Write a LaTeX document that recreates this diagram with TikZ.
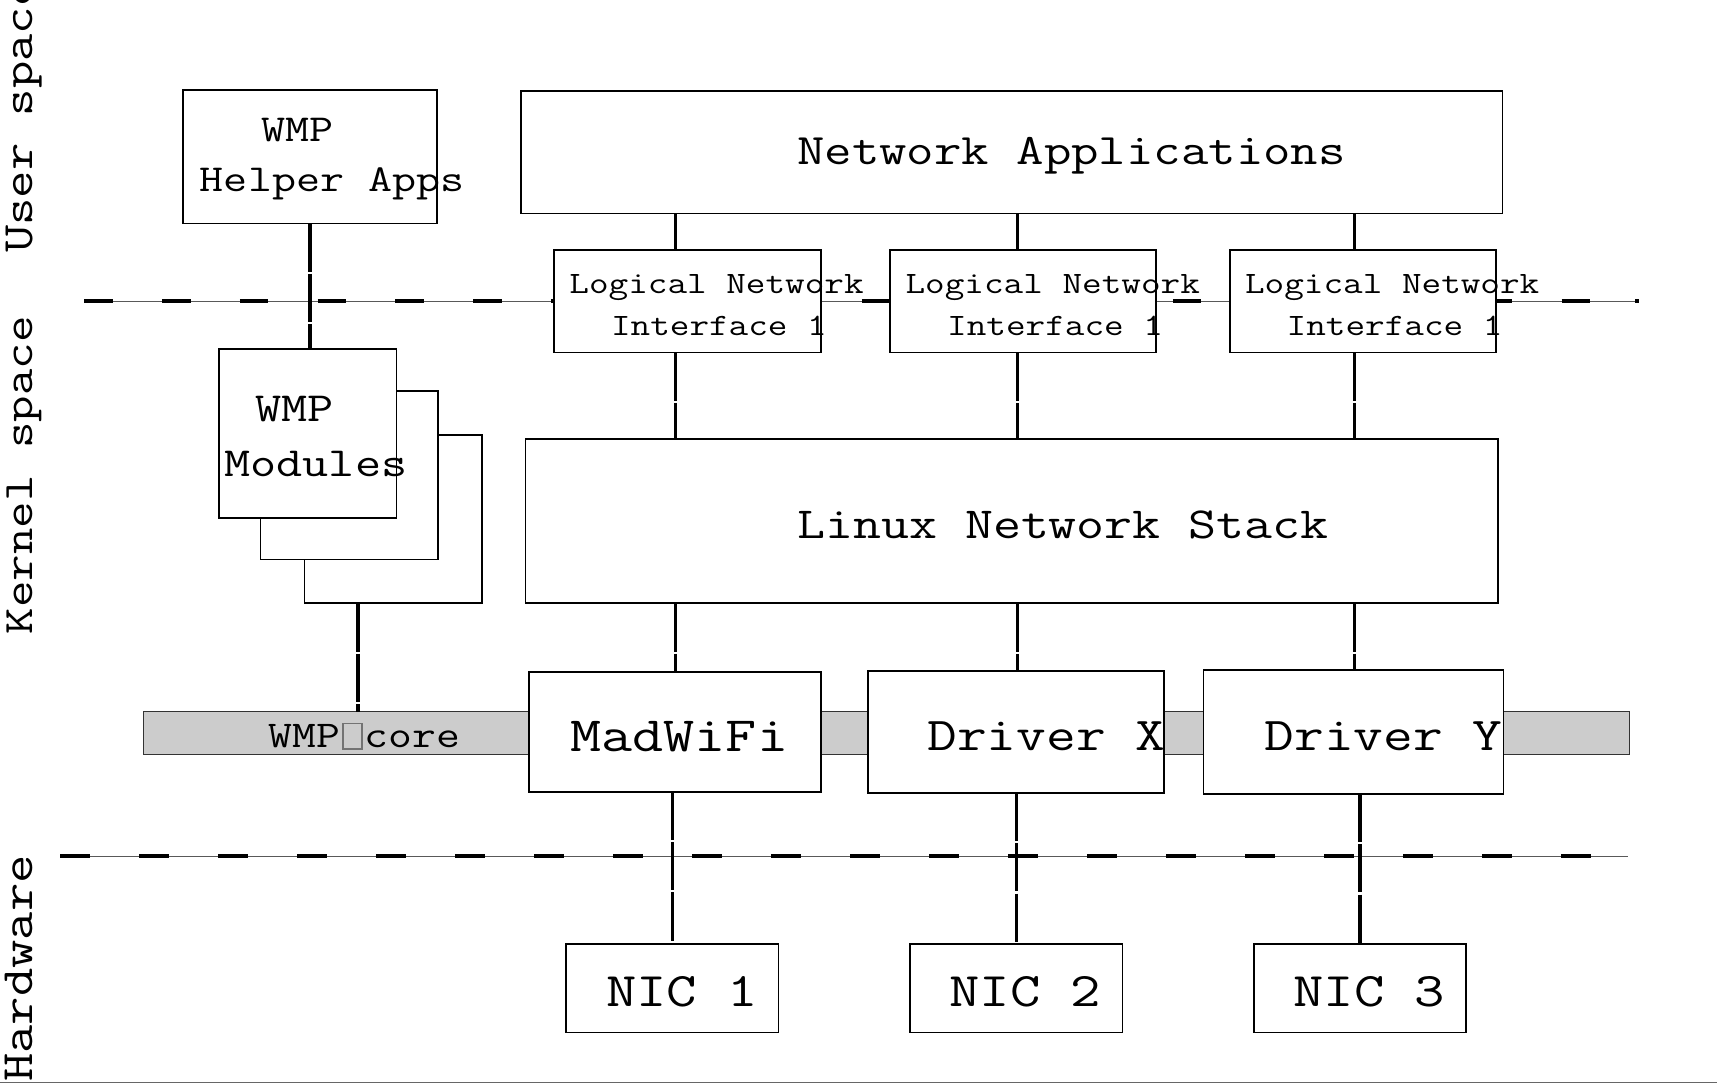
\documentclass[tikz,border=0pt]{standalone}
\usepackage{fontspec}
\newcommand\fs[1]{\fontsize{#1}{#1}\selectfont}
\newcommand\missglyph{\makebox[0.525em][c]{\textcolor{black!55}{\setlength{\fboxsep}{0pt}\setlength{\fboxrule}{0.045em}\fbox{\rule{0pt}{0.62em}\rule{0.36em}{0pt}}}}}
\tikzset{
  box/.style={draw, line width=1.6pt, fill=white, inner sep=0pt, outer sep=0pt},
  lbl/.style={anchor=base west, inner sep=0pt, outer sep=0pt, xscale=1.225},
  rlbl/.style={anchor=base west, inner sep=0pt, outer sep=0pt, rotate=90, xscale=1.225},
  conn/.style={line width=3pt, dash pattern=on 44pt off 2pt},
  connsolid/.style={line width=2.6pt},
  septhin/.style={line width=1pt, draw=black!65},
  sepdash/.style={line width=3.5pt, draw=black},
}
\begin{document}
\begin{tikzpicture}[x=1pt,y=-1pt]
\useasboundingbox (0,0) rectangle (1568,990);
\clip (0,0) rectangle (1568,990);
% layer separators
\draw[septhin] (77,275) -- (1495,275);
\draw[sepdash, dash pattern=on 26pt off 45pt] (77,275) -- (1495,275);
\fill (1493.5,273.5) rectangle (1496.5,276.5);
\draw[septhin] (55,782) -- (1487,782);
\draw[sepdash, dash pattern=on 27pt off 45.15pt] (55,782) -- (1487,782);
\draw[line width=1pt, black!60] (0,988.5) -- (1568,988.5);
% boxes
\node[box, minimum width=232pt, minimum height=122pt] (helper) at (283,143) {};
\node[box, minimum width=896pt, minimum height=112pt] (apps) at (924,139) {};
\node[box, minimum width=244pt, minimum height=94pt] (lni1) at (628,275) {};
\node[box, minimum width=243pt, minimum height=94pt] (lni2) at (934.5,275) {};
\node[box, minimum width=243pt, minimum height=94pt] (lni3) at (1244.5,275) {};
\node[box, minimum width=888pt, minimum height=150pt] (linux) at (924,476) {};
\node[box, minimum width=162pt, minimum height=154pt] (mod3) at (359,474) {};
\node[box, minimum width=162pt, minimum height=154pt] (mod2) at (319,434) {};
\node[box, minimum width=162pt, minimum height=154pt] (mod1) at (281,396) {};
\node[draw=black!80, line width=1.3pt, fill=black!20, inner sep=0pt, outer sep=0pt, minimum width=1357pt, minimum height=39pt] (core) at (809.5,669.5) {};
\node[box, minimum width=267pt, minimum height=109pt] (mad) at (616.5,668.5) {};
\node[box, minimum width=270pt, minimum height=111pt] (drvx) at (928,668.5) {};
\node[box, minimum width=274pt, minimum height=113pt] (drvy) at (1236,668.5) {};
\node[box, minimum width=194pt, minimum height=81pt] (nic1) at (614,902.5) {};
\node[box, minimum width=194pt, minimum height=81pt] (nic2) at (928,902.5) {};
\node[box, minimum width=194pt, minimum height=81pt] (nic3) at (1242,902.5) {};
% connector x positions
\coordinate (c1) at (617,0);
\coordinate (c2) at (929,0);
\coordinate (c3) at (1237,0);
\coordinate (cm) at (327,0);
% connectors
\draw[conn] (helper.south) -- (helper.south |- mod1.north);
\draw[conn] (cm |- mod3.south) -- (cm |- core.north);
\draw[connsolid] (c1 |- apps.south) -- (c1 |- lni1.north);
\draw[connsolid] (c2 |- apps.south) -- (c2 |- lni2.north);
\draw[connsolid] (c3 |- apps.south) -- (c3 |- lni3.north);
\draw[conn] (c1 |- lni1.south) -- (c1 |- linux.north);
\draw[conn] (c2 |- lni2.south) -- (c2 |- linux.north);
\draw[conn] (c3 |- lni3.south) -- (c3 |- linux.north);
\draw[conn] (c1 |- linux.south) -- (c1 |- mad.north);
\draw[conn] (c2 |- linux.south) -- (c2 |- drvx.north);
\draw[conn] (c3 |- linux.south) -- (c3 |- drvy.north);
\draw[conn] (nic1.north |- mad.south) -- (nic1.north);
\draw[conn] (nic2.north |- drvx.south) -- (nic2.north);
\draw[conn] (nic3.north |- drvy.south) -- (nic3.north);
% texts
\node[lbl, font=\ttfamily\fs{34.8}] (th1) at (239,129.6) {WMP};
\node[lbl, font=\ttfamily\fs{34.8}] (th2) at (182.6,175) {Helper Apps};
\node[lbl, font=\ttfamily\fs{39.7}] (tapps) at (728,150) {Network Applications};
\node[lbl, font=\ttfamily\fs{28.4}] (tl1a) at (520,267.6) {Logical Network};
\node[lbl, font=\ttfamily\fs{28.4}] (tl1b) at (558,306) {Interface 1};
\node[lbl, font=\ttfamily\fs{28.4}] (tl2a) at (827,267.6) {Logical Network};
\node[lbl, font=\ttfamily\fs{28.4}] (tl2b) at (865,306) {Interface 1};
\node[lbl, font=\ttfamily\fs{28.4}] (tl3a) at (1137,267.6) {Logical Network};
\node[lbl, font=\ttfamily\fs{28.4}] (tl3b) at (1175,306) {Interface 1};
\node[lbl, font=\ttfamily\fs{40.5}] (tlinux) at (728,492) {Linux Network Stack};
\node[lbl, font=\ttfamily\fs{37.8}] (tm1) at (233,385) {WMP};
\node[lbl, font=\ttfamily\fs{37.8}] (tm2) at (205,435.6) {Modules};
\node[lbl, font=\ttfamily\fs{34.5}] (tcore) at (245.6,683) {WMP\missglyph core};
\node[lbl, font=\ttfamily\fs{45}] (tmad) at (521,686) {MadWiFi};
\node[lbl, font=\ttfamily\fs{43}] (tdx) at (847,685.5) {Driver X};
\node[lbl, font=\ttfamily\fs{43}] (tdy) at (1155,685.5) {Driver Y};
\node[lbl, font=\ttfamily\fs{44}] (tn1) at (553.5,919.4) {NIC 1};
\node[lbl, font=\ttfamily\fs{44}] (tn2) at (867,919.4) {NIC 2};
\node[lbl, font=\ttfamily\fs{44}] (tn3) at (1181,919.4) {NIC 3};
% layer labels
\node[rlbl, font=\ttfamily\fs{39.6}] (luser) at (29.5,231) {User space};
\node[rlbl, font=\ttfamily\fs{38.3}] (lkern) at (29.5,579) {Kernel space};
\node[rlbl, font=\ttfamily\fs{41}] (lhw) at (29.5,988) {Hardware};
\end{tikzpicture}
\end{document}
